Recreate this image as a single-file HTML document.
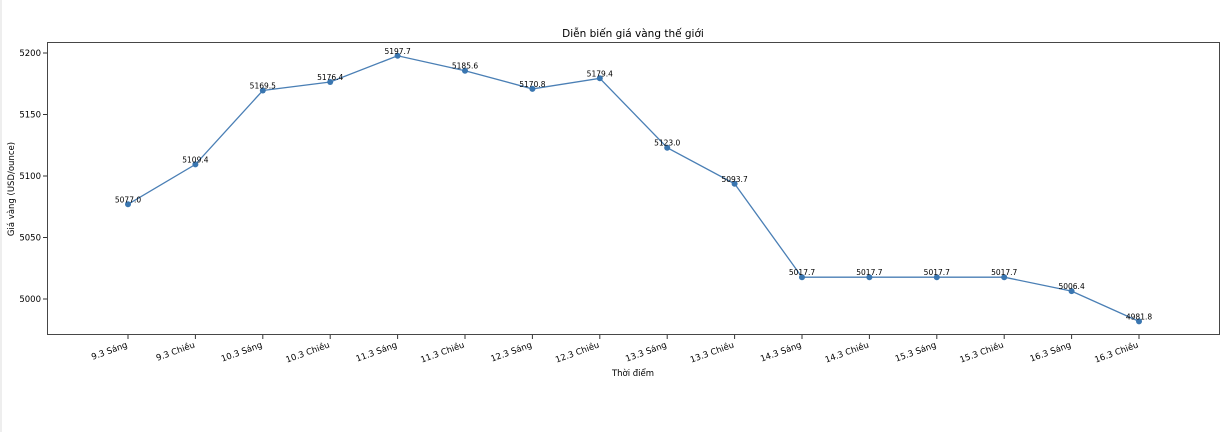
<!DOCTYPE html>
<html><head><meta charset="utf-8"><style>
html,body{margin:0;padding:0;background:#fff;}
svg{display:block;font-family:"DejaVu Sans","Liberation Sans",sans-serif;}
</style></head><body>
<svg width="1226" height="432" viewBox="0 0 1226 432">
<rect width="1226" height="432" fill="#fff"/>
<line x1="1" y1="0" x2="1" y2="432" stroke="#ddd" stroke-width="1"/>
<text x="633" y="37" font-size="10.5" text-anchor="middle" fill="#000">Diễn biến giá vàng thế giới</text>
<rect x="47.5" y="42.5" width="1172" height="292" fill="none" stroke="#333" stroke-width="0.9"/>
<g font-size="8.5" fill="#000" text-anchor="end">
<line x1="43" y1="53" x2="47" y2="53" stroke="#333"/><text x="41" y="56">5200</text>
<line x1="43" y1="114.5" x2="47" y2="114.5" stroke="#333"/><text x="41" y="117.5">5150</text>
<line x1="43" y1="176" x2="47" y2="176" stroke="#333"/><text x="41" y="179">5100</text>
<line x1="43" y1="237.5" x2="47" y2="237.5" stroke="#333"/><text x="41" y="240.5">5050</text>
<line x1="43" y1="299" x2="47" y2="299" stroke="#333"/><text x="41" y="302">5000</text>
</g>
<text transform="translate(14,189) rotate(-90)" font-size="8.5" text-anchor="middle">Giá vàng (USD/ounce)</text>
<text x="633" y="376" font-size="8.5" text-anchor="middle">Thời điểm</text>
<g stroke="#333">
<line x1="128" y1="335" x2="128" y2="339"/><line x1="195.4" y1="335" x2="195.4" y2="339"/><line x1="262.8" y1="335" x2="262.8" y2="339"/><line x1="330.2" y1="335" x2="330.2" y2="339"/><line x1="397.6" y1="335" x2="397.6" y2="339"/><line x1="465" y1="335" x2="465" y2="339"/><line x1="532.4" y1="335" x2="532.4" y2="339"/><line x1="599.8" y1="335" x2="599.8" y2="339"/><line x1="667.2" y1="335" x2="667.2" y2="339"/><line x1="734.6" y1="335" x2="734.6" y2="339"/><line x1="802" y1="335" x2="802" y2="339"/><line x1="869.4" y1="335" x2="869.4" y2="339"/><line x1="936.8" y1="335" x2="936.8" y2="339"/><line x1="1004.2" y1="335" x2="1004.2" y2="339"/><line x1="1071.6" y1="335" x2="1071.6" y2="339"/><line x1="1139" y1="335" x2="1139" y2="339"/>
</g>
<g font-size="8.5" text-anchor="end" fill="#000">
<text transform="translate(128,347) rotate(-20)">9.3 Sáng</text>
<text transform="translate(195.4,347) rotate(-20)">9.3 Chiều</text>
<text transform="translate(262.8,347) rotate(-20)">10.3 Sáng</text>
<text transform="translate(330.2,347) rotate(-20)">10.3 Chiều</text>
<text transform="translate(397.6,347) rotate(-20)">11.3 Sáng</text>
<text transform="translate(465,347) rotate(-20)">11.3 Chiều</text>
<text transform="translate(532.4,347) rotate(-20)">12.3 Sáng</text>
<text transform="translate(599.8,347) rotate(-20)">12.3 Chiều</text>
<text transform="translate(667.2,347) rotate(-20)">13.3 Sáng</text>
<text transform="translate(734.6,347) rotate(-20)">13.3 Chiều</text>
<text transform="translate(802,347) rotate(-20)">14.3 Sáng</text>
<text transform="translate(869.4,347) rotate(-20)">14.3 Chiều</text>
<text transform="translate(936.8,347) rotate(-20)">15.3 Sáng</text>
<text transform="translate(1004.2,347) rotate(-20)">15.3 Chiều</text>
<text transform="translate(1071.6,347) rotate(-20)">16.3 Sáng</text>
<text transform="translate(1139,347) rotate(-20)">16.3 Chiều</text>
</g>
<polyline fill="none" stroke="#4a7fb5" stroke-width="1.3" points="128,204.3 195.4,164.4 262.8,90.5 330.2,82 397.6,55.8 465,70.7 532.4,88.9 599.8,78.3 667.2,147.7 734.6,183.8 802,277.2 869.4,277.2 936.8,277.2 1004.2,277.2 1071.6,291.1 1139,321.4"/>
<g fill="#3a76b0">
<circle cx="128" cy="204.3" r="3"/><circle cx="195.4" cy="164.4" r="3"/><circle cx="262.8" cy="90.5" r="3"/><circle cx="330.2" cy="82" r="3"/><circle cx="397.6" cy="55.8" r="3"/><circle cx="465" cy="70.7" r="3"/><circle cx="532.4" cy="88.9" r="3"/><circle cx="599.8" cy="78.3" r="3"/><circle cx="667.2" cy="147.7" r="3"/><circle cx="734.6" cy="183.8" r="3"/><circle cx="802" cy="277.2" r="3"/><circle cx="869.4" cy="277.2" r="3"/><circle cx="936.8" cy="277.2" r="3"/><circle cx="1004.2" cy="277.2" r="3"/><circle cx="1071.6" cy="291.1" r="3"/><circle cx="1139" cy="321.4" r="3"/>
</g>
<g font-size="7.5" text-anchor="middle" fill="#000">
<text x="128" y="202.3">5077.0</text>
<text x="195.4" y="162.4">5109.4</text>
<text x="262.8" y="88.5">5169.5</text>
<text x="330.2" y="80">5176.4</text>
<text x="397.6" y="53.8">5197.7</text>
<text x="465" y="68.7">5185.6</text>
<text x="532.4" y="86.9">5170.8</text>
<text x="599.8" y="76.3">5179.4</text>
<text x="667.2" y="145.7">5123.0</text>
<text x="734.6" y="181.8">5093.7</text>
<text x="802" y="275.2">5017.7</text>
<text x="869.4" y="275.2">5017.7</text>
<text x="936.8" y="275.2">5017.7</text>
<text x="1004.2" y="275.2">5017.7</text>
<text x="1071.6" y="289.1">5006.4</text>
<text x="1139" y="319.4">4981.8</text>
</g>
</svg>
</body></html>
